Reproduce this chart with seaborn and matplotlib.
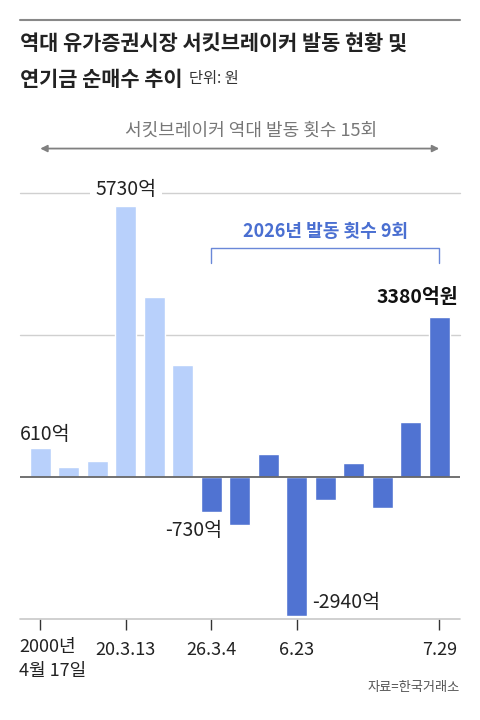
import matplotlib
matplotlib.use("Agg")
import matplotlib.pyplot as plt
import matplotlib.transforms as mtransforms
import seaborn as sns
import pandas as pd

# 연기금 순매수 (억원), 서킷브레이커 발동일 기준
event_no = list(range(15))
net_buy = [610, 210, 330, 5730, 3800, 2360, -730, -1020, 480, -2940, -490, 290, -660, 1160, 3380]
period = ["past"] * 6 + ["2026"] * 9
tick_pos = [0, 3, 6, 9, 14]
tick_labels = ["2000년\n4월 17일", "20.3.13", "26.3.4", "6.23", "7.29"]

LIGHT = "#b8d0fb"
DARK = "#5073d2"

sns.set_theme(style="white")
plt.rcParams["font.family"] = ["Noto Sans CJK KR", "DejaVu Sans"]

df = pd.DataFrame({"event": event_no, "value": net_buy, "period": period})

fig = plt.figure(figsize=(4.8, 7.2), dpi=100)
ax = fig.add_axes([20 / 480, 1 - 619 / 720, 440 / 480, (619 - 193.3) / 720])

sns.barplot(data=df, x="event", y="value", hue="period",
            palette={"past": LIGHT, "2026": DARK}, dodge=False, saturation=1,
            width=0.73, legend=False, ax=ax, zorder=3)

ax.set_xlim(-0.71, 14.73)
ax.set_ylim(-3000, 6000)
for s in ax.spines.values():
    s.set_visible(False)

# gridlines
for g in [3000, 6000]:
    ax.axhline(g, color="#d0d0d0", lw=1, zorder=1, clip_on=False)
ax.axhline(0, color="#666666", lw=1.3, zorder=4)
ax.axhline(-3000, color="#c8c8c8", lw=1.2, zorder=1, clip_on=False)

ax.set_yticks([])
ax.set_xticks(tick_pos)
ax.set_xticklabels(tick_labels)
ax.tick_params(axis="x", length=8, width=1, color="#333333", direction="out",
               bottom=True, pad=8, labelsize=13, labelcolor="#222222")
ax.set_xlabel("")
ax.set_ylabel("")
lbls = ax.get_xticklabels()
for t in lbls:
    t.set_verticalalignment("top")
lbls[0].set_horizontalalignment("left")
lbls[0].set_linespacing(1.45)
lbls[0].set_transform(ax.get_xaxis_transform() + mtransforms.ScaledTranslation(
    -21 / 100, -19 / 100, fig.dpi_scale_trans))

# value labels
lab_kw = dict(fontsize=14, color="#222222", zorder=6)
ax.text(-0.71, 900, "610억", ha="left", va="center", **lab_kw)
ax.text(3, 6090, "5730억", ha="center", va="center",
        bbox=dict(facecolor="white", edgecolor="none", pad=4), **lab_kw)
ax.text(6.37, -1130, "-730억", ha="right", va="center", **lab_kw)
ax.text(9.55, -2650, "-2940억", ha="left", va="center", **lab_kw)
ax.text(14.68, 3800, "3380억원", ha="right", va="center", fontsize=14,
        fontweight="bold", color="#111111", zorder=6)

# 2026 bracket
bc = "#6a88d8"
ax.plot([6, 6, 14, 14], [4518, 4835, 4835, 4518], color=bc, lw=1, clip_on=False, zorder=5)
ax.text(10, 5190, "2026년 발동 횟수 9회", ha="center", va="center",
        fontsize=13, color="#4a6fd1", fontweight="bold")

# whole-history arrow
ax.annotate("", xy=(14, 6946), xytext=(0, 6946),
            arrowprops=dict(arrowstyle="<|-|>", color="#808080", lw=1.3,
                            mutation_scale=10, shrinkA=0, shrinkB=0),
            annotation_clip=False)
ax.text(7.4, 7330, "서킷브레이커 역대 발동 횟수 15회", ha="center", va="center",
        fontsize=13, color="#777777", clip_on=False)

# title block
fig.add_artist(plt.Line2D([20 / 480, 460 / 480], [1 - 20 / 720, 1 - 20 / 720],
                          color="#888888", lw=1.5))
fig.text(20 / 480, 1 - 44 / 720, "역대 유가증권시장 서킷브레이커 발동 현황 및",
         ha="left", va="center", fontsize=15, fontweight="bold", color="#222222")
t2 = fig.text(20 / 480, 1 - 79 / 720, "연기금 순매수 추이",
              ha="left", va="center", fontsize=15, fontweight="bold", color="#222222")
ax.annotate("단위: 원", xy=(1, 0.5), xycoords=t2, xytext=(5, 0),
            textcoords="offset points", ha="left", va="center",
            fontsize=11, color="#333333", annotation_clip=False)

fig.text(460 / 480, 1 - 688 / 720, "자료=한국거래소", ha="right", va="center",
         fontsize=9.5, color="#555555")

fig.savefig("out.png", dpi=100)
